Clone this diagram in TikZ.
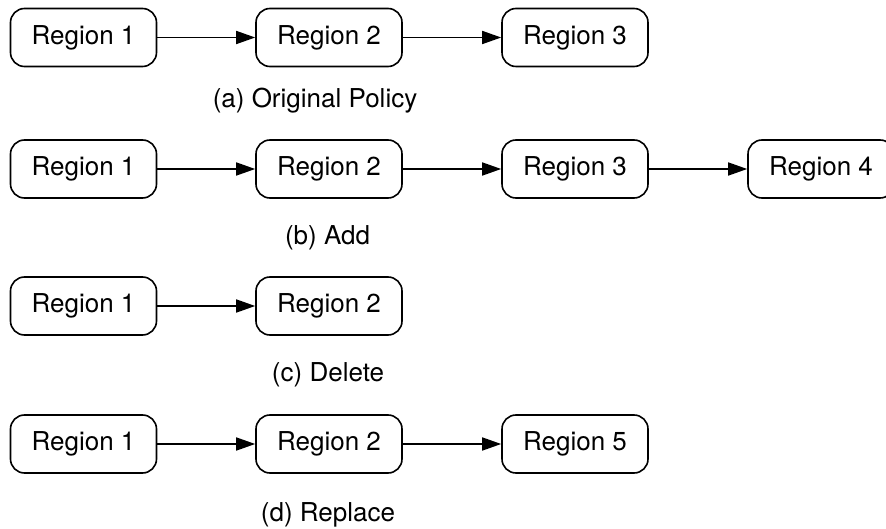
\documentclass[tikz,border=0pt]{standalone}
\usepackage{fontspec}
\setmainfont{TeX Gyre Heros}
\usetikzlibrary{arrows.meta}
\begin{document}
\begin{tikzpicture}[x=1pt,y=-1pt,
  region/.style={draw, rounded corners=14pt, line width=1.6pt,
    minimum width=146pt, minimum height=58pt, inner sep=0pt,
    font=\fontsize{26}{31}\selectfont},
  link/.style={-{Triangle[length=19pt,width=13pt]}, line width=1.6pt},
  caption/.style={font=\fontsize{26}{31}\selectfont}]
\clip (0,0) rectangle (886,529);
\fill[white] (0,0) rectangle (886,529);

% (a) original policy
\node[region] (a1) at (83.5,37.5) {Region 1};
\node[region] (a2) at (329,37.5) {Region 2};
\node[region] (a3) at (575,37.5) {Region 3};
\draw[link] (a1) -- (a2);
\draw[link] (a2) -- (a3);
\node[caption] (capa) at (315,101) {(a) Original Policy};

% (b) add
\node[region] (b1) at (83.5,169) {Region 1};
\node[region] (b2) at (329,169) {Region 2};
\node[region] (b3) at (575,169) {Region 3};
\node[region] (b4) at (821,169) {Region 4};
\draw[link] (b1) -- (b2);
\draw[link] (b2) -- (b3);
\draw[link] (b3) -- (b4);
\node[caption] (capb) at (327.5,238) {(b) Add};

% (c) delete
\node[region] (c1) at (83.5,306) {Region 1};
\node[region] (c2) at (329,306) {Region 2};
\draw[link] (c1) -- (c2);
\node[caption] (capc) at (328,375) {(c) Delete};

% (d) replace
\node[region] (d1) at (83.5,444) {Region 1};
\node[region] (d2) at (329,444) {Region 2};
\node[region] (d3) at (575,444) {Region 5};
\draw[link] (d1) -- (d2);
\draw[link] (d2) -- (d3);
\node[caption] (capd) at (328,515) {(d) Replace};
\end{tikzpicture}
\end{document}
